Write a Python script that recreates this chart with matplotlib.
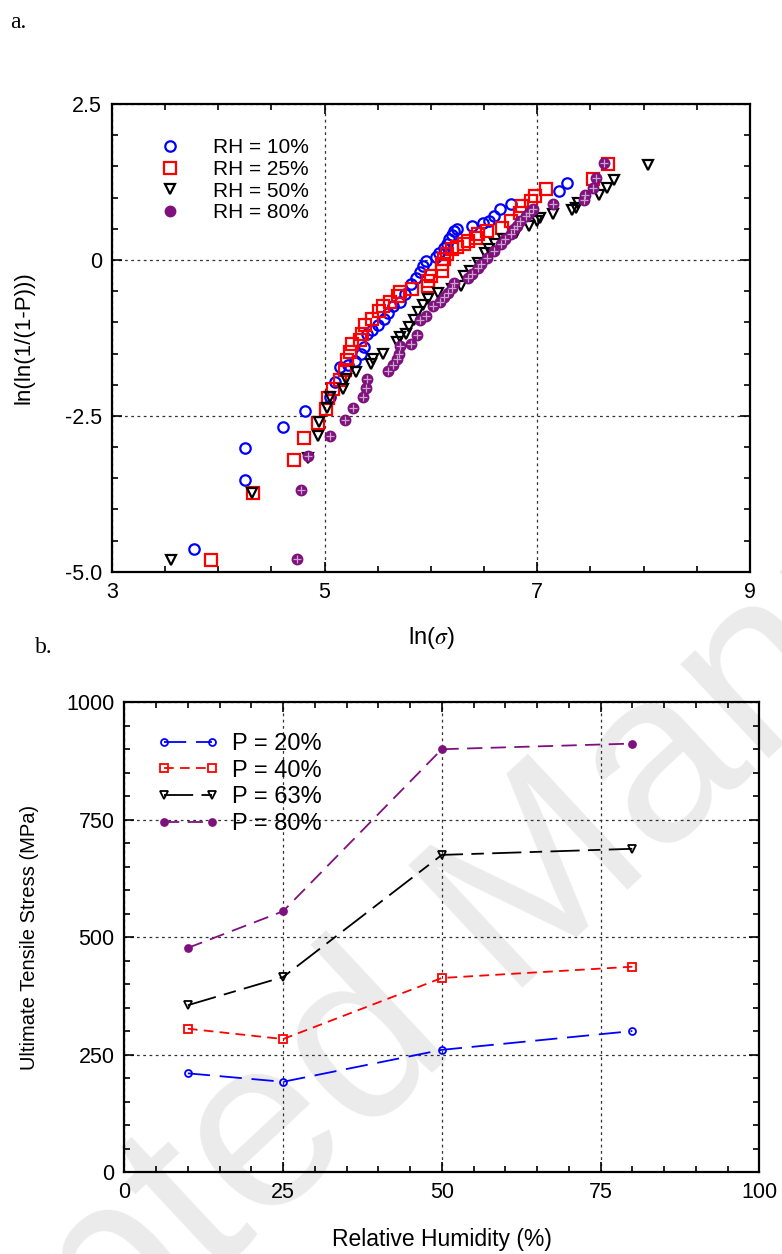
import matplotlib
matplotlib.use("Agg")
import matplotlib.pyplot as plt
from matplotlib.ticker import MultipleLocator

plt.rcParams["font.family"] = ["Liberation Sans", "DejaVu Sans"]
plt.rcParams["mathtext.fontset"] = "stix"
plt.rcParams["lines.scale_dashes"] = False

PURPLE = "#7f117f"

# panel a: Weibull plot, ln(sigma) vs ln(ln(1/(1-P)))
rh10_x = [3.77, 4.25, 4.25, 4.61, 4.82, 5.05, 5.10, 5.15, 5.22, 5.29, 5.34, 5.37, 5.40, 5.45,
          5.50, 5.56, 5.60, 5.64, 5.71, 5.76, 5.81, 5.86, 5.90, 5.93, 5.95, 6.05, 6.08, 6.12,
          6.15, 6.17, 6.20, 6.22, 6.25, 6.39, 6.49, 6.55, 6.59, 6.65, 6.75, 7.20, 7.28]
rh10_y = [-4.63, -3.53, -3.01, -2.67, -2.42, -2.20, -1.95, -1.72, -1.68, -1.62, -1.50, -1.40,
          -1.18, -1.12, -1.05, -0.95, -0.85, -0.73, -0.68, -0.55, -0.38, -0.29, -0.20, -0.10,
          -0.02, 0.05, 0.12, 0.20, 0.26, 0.33, 0.40, 0.46, 0.49, 0.54, 0.59, 0.62, 0.70, 0.81,
          0.89, 1.10, 1.24]

rh25_x = [3.93, 4.33, 4.71, 4.81, 4.94, 5.01, 5.03, 5.08, 5.15, 5.19, 5.21, 5.24, 5.26, 5.33,
          5.35, 5.38, 5.45, 5.51, 5.55, 5.62, 5.69, 5.71, 5.82, 5.97, 5.97, 6.00, 6.10, 6.10,
          6.12, 6.15, 6.20, 6.25, 6.31, 6.35, 6.42, 6.44, 6.53, 6.67, 6.75, 6.84, 6.86, 6.94,
          6.98, 7.08, 7.52, 7.67]
rh25_y = [-4.81, -3.73, -3.20, -2.85, -2.61, -2.39, -2.21, -2.07, -1.93, -1.77, -1.61, -1.48,
          -1.34, -1.29, -1.18, -1.05, -0.94, -0.81, -0.73, -0.67, -0.57, -0.51, -0.46, -0.41,
          -0.33, -0.25, -0.18, -0.07, 0.02, 0.10, 0.18, 0.21, 0.25, 0.30, 0.35, 0.41, 0.46,
          0.52, 0.62, 0.75, 0.86, 0.95, 1.03, 1.14, 1.30, 1.54]

rh50_x = [3.56, 4.32, 4.84, 4.94, 4.95, 5.02, 5.05, 5.17, 5.20, 5.30, 5.44, 5.46, 5.55, 5.68,
          5.71, 5.77, 5.79, 5.84, 5.88, 5.93, 5.97, 6.07, 6.20, 6.28, 6.31, 6.37, 6.44, 6.51,
          6.55, 6.60, 6.68, 6.80, 6.92, 7.00, 7.03, 7.15, 7.33, 7.36, 7.38, 7.58, 7.66, 7.72,
          8.04]
rh50_y = [-4.81, -3.73, -3.18, -2.83, -2.60, -2.37, -2.20, -2.07, -1.91, -1.80, -1.67, -1.58,
          -1.50, -1.32, -1.24, -1.18, -1.08, -0.96, -0.84, -0.72, -0.62, -0.53, -0.47, -0.41,
          -0.25, -0.18, -0.05, 0.11, 0.18, 0.25, 0.33, 0.44, 0.54, 0.62, 0.68, 0.73, 0.80,
          0.84, 0.91, 1.05, 1.15, 1.29, 1.53]

rh80_x = [4.74, 4.78, 4.84, 5.05, 5.19, 5.27, 5.36, 5.39, 5.40, 5.60, 5.64, 5.68, 5.70, 5.71,
          5.81, 5.87, 5.90, 5.95, 6.02, 6.09, 6.12, 6.16, 6.20, 6.22, 6.35, 6.39, 6.44, 6.47,
          6.53, 6.59, 6.66, 6.70, 6.75, 6.78, 6.81, 6.84, 6.89, 6.92, 6.96, 7.15, 7.44, 7.45,
          7.52, 7.55, 7.63]
rh80_y = [-4.79, -3.69, -3.15, -2.83, -2.56, -2.37, -2.20, -2.05, -1.91, -1.78, -1.69, -1.59,
          -1.50, -1.38, -1.34, -1.21, -0.97, -0.89, -0.73, -0.68, -0.60, -0.53, -0.45, -0.37,
          -0.29, -0.22, -0.13, -0.06, 0.03, 0.14, 0.25, 0.33, 0.41, 0.49, 0.54, 0.62, 0.70,
          0.75, 0.81, 0.89, 0.96, 1.05, 1.16, 1.31, 1.56]

# panel b: UTS vs relative humidity
humidity = [10, 25, 50, 80]
uts_p20 = [210, 192, 260, 300]
uts_p40 = [305, 283, 413, 437]
uts_p63 = [355, 415, 675, 688]
uts_p80 = [477, 555, 900, 912]


def style_axes(ax):
    for s in ax.spines.values():
        s.set_linewidth(1.6)
    ax.tick_params(which="both", direction="in", top=True, right=True, labelsize=15.5,
                   width=1.2, pad=7)
    ax.tick_params(which="major", length=7)
    ax.tick_params(which="minor", length=4)
    ax.grid(True, which="major", ls=(0, (2, 2.5)), color="#333333", lw=0.9)
    ax.set_facecolor("none")


fig = plt.figure(figsize=(7.82, 12.54), dpi=100)

# journal watermark, sits behind both panels
fig.text(0.646, 0.268, "Accepted Manuscript", rotation=43, fontsize=176, color="#ebebeb",
         ha="center", va="center", zorder=-10)

ax1 = fig.add_axes([0.143, 0.544, 0.816, 0.373])
mk = dict(ls="none", ms=7.5, mew=1.6)
ax1.plot(rh10_x, rh10_y, marker="o", mfc="none", mec="#0000ff", label="RH = 10%", **mk)
ax1.plot(rh25_x, rh25_y, marker="s", mfc="none", mec="#ff0000", label="RH = 25%", ms=8.5, mew=1.6, ls="none")
ax1.plot(rh50_x, rh50_y, marker="v", mfc="none", mec="black", label="RH = 50%", **mk)
ax1.plot(rh80_x, rh80_y, marker="o", mfc=PURPLE, mec=PURPLE, label="RH = 80%", ms=7.5, mew=1, ls="none")
ax1.plot(rh80_x, rh80_y, marker="+", color="#c9a6c9", ms=6, mew=0.9, ls="none")
ax1.set_xlim(3, 9)
ax1.set_ylim(-5, 2.5)
ax1.set_xticks([3, 5, 7, 9])
ax1.xaxis.set_minor_locator(MultipleLocator(0.5))
ax1.set_yticks([-5, -2.5, 0, 2.5])
ax1.set_yticklabels(["-5.0", "-2.5", "0", "2.5"])
ax1.yaxis.set_minor_locator(MultipleLocator(0.5))
style_axes(ax1)
ax1.set_xlabel("ln($\\sigma$)", fontsize=17, labelpad=16)
ax1.set_ylabel("ln(ln(1/(1-P)))", fontsize=16, labelpad=22)
ax1.legend(loc="upper left", bbox_to_anchor=(0.045, 0.945), frameon=False, fontsize=15,
           handletextpad=1.1, labelspacing=0.13, borderaxespad=0)

ax2 = fig.add_axes([0.159, 0.0654, 0.812, 0.3746])
ax2.plot(humidity, uts_p20, color="#0000ff", marker="o", mfc="none", ms=5, mew=1.3, lw=1.3,
         dashes=(16, 7), label="P = 20%")
ax2.plot(humidity, uts_p40, color="#ff0000", marker="s", mfc="none", ms=5.5, mew=1.3, lw=1.3,
         dashes=(7, 4.5), label="P = 40%")
ax2.plot(humidity, uts_p63, color="black", marker="v", mfc="none", ms=5.5, mew=1.3, lw=1.3,
         dashes=(21, 6, 9, 6), label="P = 63%")
ax2.plot(humidity, uts_p80, color=PURPLE, marker="o", mfc=PURPLE, ms=5, mew=1.3, lw=1.3,
         dashes=(11, 6), label="P = 80%")
ax2.set_xlim(0, 100)
ax2.set_ylim(0, 1000)
ax2.xaxis.set_major_locator(MultipleLocator(25))
ax2.xaxis.set_minor_locator(MultipleLocator(5))
ax2.yaxis.set_major_locator(MultipleLocator(250))
ax2.yaxis.set_minor_locator(MultipleLocator(50))
style_axes(ax2)
ax2.set_xlabel("Relative Humidity (%)", fontsize=16.5, labelpad=18)
ax2.set_ylabel("Ultimate Tensile Stress (MPa)", fontsize=14.5, labelpad=20)
ax2.legend(loc="upper left", bbox_to_anchor=(0.036, 0.955), frameon=False, fontsize=17,
           numpoints=2, handlelength=2.65, handletextpad=0.55, labelspacing=0.2, borderaxespad=0)

fig.text(0.013, 0.982, "a.", fontsize=17, family="Liberation Serif", va="center")
fig.text(0.045, 0.484, "b.", fontsize=17, family="Liberation Serif", va="center")

fig.savefig("out.png", dpi=100)
